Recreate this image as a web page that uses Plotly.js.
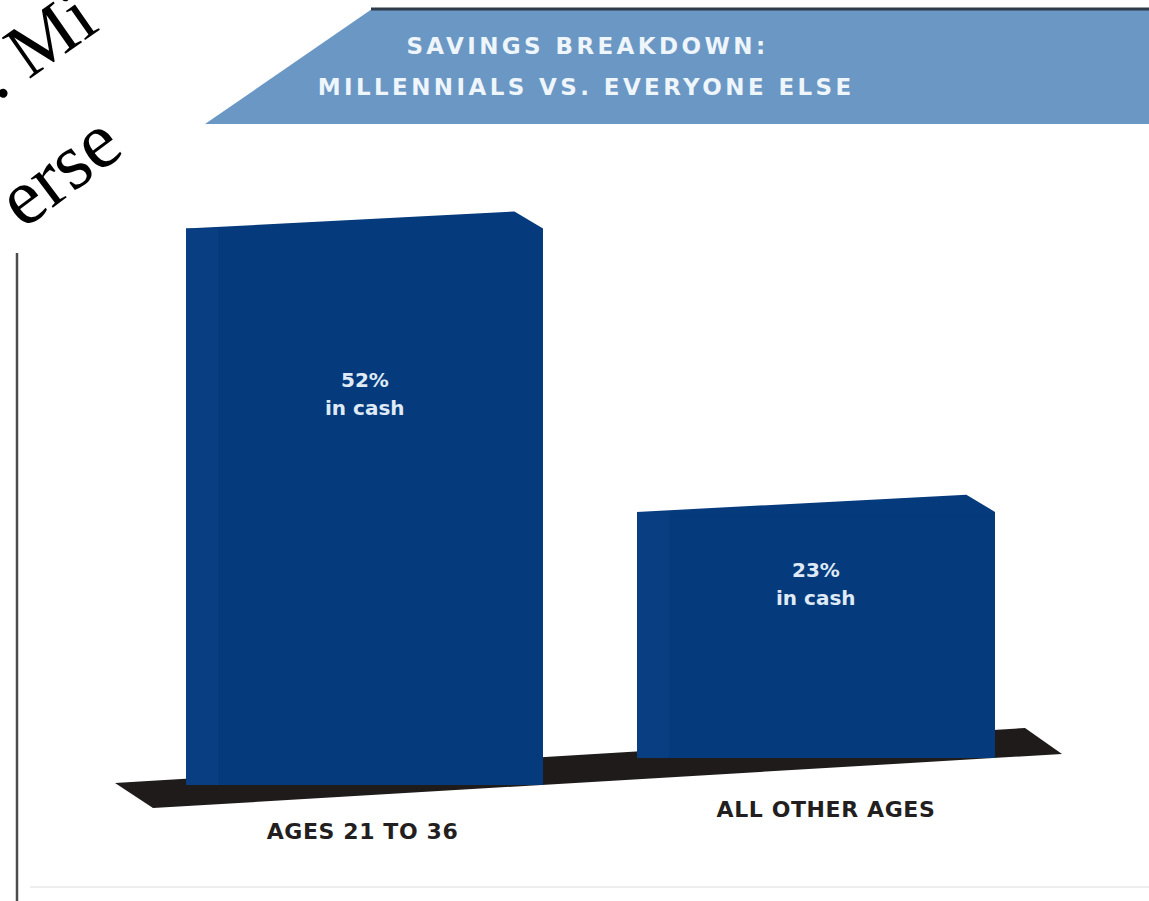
<!DOCTYPE html>
<html>
<head>
<meta charset="utf-8">
<script src="https://cdn.plot.ly/plotly-3.0.1.min.js"></script>
<style>
  html, body { margin: 0; padding: 0; background: #ffffff; }
  #chart { width: 1149px; height: 901px; }
  .annotation[data-index="0"] text, .annotation[data-index="1"] text { letter-spacing: 3.4px; }
  .xtick text, .x2tick text { letter-spacing: 0.6px; }
</style>
</head>
<body>
<div id="chart"></div>
<script>
// ---- data ----
const categories = ['AGES 21 TO 36', 'ALL OTHER AGES'];
const cashShare = [52, 23];            // % of savings held in cash
const valueSuffix = '%';
const noteText = 'in cash';
const titleLines = ['SAVINGS BREAKDOWN:', 'MILLENNIALS VS. EVERYONE ELSE'];
const cornerFragments = ['. Mi', 'erse'];

// ---- layout helpers (pixels -> paper) ----
const W = 1149, H = 901;
const px = x => x / W;
const py = y => 1 - y / H;

const navy = '#053a7c';
const navySide = '#093e82';
const bannerBlue = '#6a97c4';
const floorColor = '#1f1b1b';

// each bar sits on its own perspective baseline
const barLeft = [186, 637];
const barRight = [543, 995];
const baseline = [785, 758];
const pxPerUnit = 10.7;
const yMax = 60;
const tickStandoff = [31, 36];
const tickShift = [-2, 10];

const axisNames = [['x', 'y'], ['x2', 'y2']];
const traces = [];
const layout = {
  width: W, height: H,
  margin: { l: 0, r: 0, t: 0, b: 0, pad: 0 },
  paper_bgcolor: '#ffffff',
  plot_bgcolor: 'rgba(0,0,0,0)',
  showlegend: false,
  hovermode: false,
  bargap: 0,
  shapes: [],
  annotations: []
};

// title (banner text) first so CSS letter-spacing hits indexes 0,1
layout.annotations.push(
  { xref: 'paper', yref: 'paper', x: px(587), y: py(46), xanchor: 'center', yanchor: 'middle',
    text: titleLines[0], showarrow: false,
    font: { family: 'DejaVu Sans', size: 23, color: '#eef5fb', weight: 700 } },
  { xref: 'paper', yref: 'paper', x: px(586), y: py(87), xanchor: 'center', yanchor: 'middle',
    text: titleLines[1], showarrow: false,
    font: { family: 'DejaVu Sans', size: 23, color: '#eef5fb', weight: 700 } }
);

categories.forEach((cat, i) => {
  const [xa, ya] = axisNames[i];
  const xKey = i === 0 ? 'xaxis' : 'xaxis2';
  const yKey = i === 0 ? 'yaxis' : 'yaxis2';
  const v = cashShare[i];
  traces.push({
    type: 'bar', x: [0], y: [v], width: [1],
    xaxis: xa, yaxis: ya,
    marker: { color: navy, line: { width: 0 } },
    hoverinfo: 'skip'
  });
  layout[xKey] = {
    domain: [px(barLeft[i]), px(barRight[i])],
    range: [-0.5, 0.5], anchor: ya,
    tickvals: [0], ticktext: [cat],
    showgrid: false, zeroline: false, showline: false, ticks: '',
    ticklabelstandoff: tickStandoff[i],
    ticklabelshift: tickShift[i],
    tickfont: { family: 'DejaVu Sans', size: 22, color: '#231f20', weight: 700 },
    fixedrange: true
  };
  layout[yKey] = {
    domain: [py(baseline[i]), py(baseline[i] - yMax * pxPerUnit)],
    range: [0, yMax], anchor: xa, visible: false, fixedrange: true
  };
  // perspective top face (rises toward the back-right corner), overlapping the bar top slightly
  layout.shapes.push({
    type: 'path', xref: xa, yref: ya, layer: 'above',
    path: `M -0.5,${v - 0.4} L -0.5,${v} L 0.42,${v + 1.6} L 0.5,${v} L 0.5,${v - 0.4} Z`,
    fillcolor: navy, line: { width: 0 }
  });
  // left side face strip
  layout.shapes.push({
    type: 'rect', xref: xa, yref: ya, layer: 'above',
    x0: -0.5, x1: -0.41, y0: 0, y1: v,
    fillcolor: navySide, line: { width: 0 }
  });
  // inside labels
  layout.annotations.push(
    { xref: xa, yref: ya, x: 0, y: v * 0.7, yshift: 16, text: v + valueSuffix, showarrow: false,
      font: { family: 'DejaVu Sans', size: 20, color: '#dfeaf6', weight: 700 } },
    { xref: xa, yref: ya, x: 0, y: v * 0.7, yshift: -12, text: noteText, showarrow: false,
      font: { family: 'DejaVu Sans', size: 20, color: '#dfeaf6', weight: 700 } }
  );
});

// floor shadow
layout.shapes.push({
  type: 'path', xref: 'paper', yref: 'paper', layer: 'below',
  path: `M ${px(115)},${py(783)} L ${px(1025)},${py(728)} L ${px(1062)},${py(754)} L ${px(153)},${py(808)} Z`,
  fillcolor: floorColor, line: { width: 0 }
});
// banner
layout.shapes.push({
  type: 'path', xref: 'paper', yref: 'paper', layer: 'below',
  path: `M ${px(372)},${py(9)} L ${px(1149)},${py(9)} L ${px(1149)},${py(124)} L ${px(205)},${py(124)} Z`,
  fillcolor: bannerBlue, line: { width: 0 }
});
layout.shapes.push({
  type: 'line', xref: 'paper', yref: 'paper', layer: 'below',
  x0: px(371), x1: px(1149), y0: py(9), y1: py(9),
  line: { color: '#2e3b4b', width: 3 }
});
// left frame line
layout.shapes.push({
  type: 'line', xref: 'paper', yref: 'paper', layer: 'below',
  x0: px(17), x1: px(17), y0: py(253), y1: py(901),
  line: { color: '#4d4d4d', width: 2.5 }
});
// faint bottom line
layout.shapes.push({
  type: 'line', xref: 'paper', yref: 'paper', layer: 'below',
  x0: px(30), x1: px(1149), y0: py(887), y1: py(887),
  line: { color: '#eeeeee', width: 2 }
});

// corner serif fragments
layout.annotations.push(
  { xref: 'paper', yref: 'paper', x: px(34), y: py(44), xanchor: 'center', yanchor: 'middle',
    text: cornerFragments[0], textangle: -35, showarrow: false,
    font: { family: 'Liberation Serif', size: 76, color: '#000000' } },
  { xref: 'paper', yref: 'paper', x: px(58), y: py(170), xanchor: 'center', yanchor: 'middle',
    text: cornerFragments[1], textangle: -37, showarrow: false,
    font: { family: 'Liberation Serif', size: 80, color: '#000000' } }
);

Plotly.newPlot('chart', traces, layout, { staticPlot: true, displayModeBar: false });
</script>
</body>
</html>
